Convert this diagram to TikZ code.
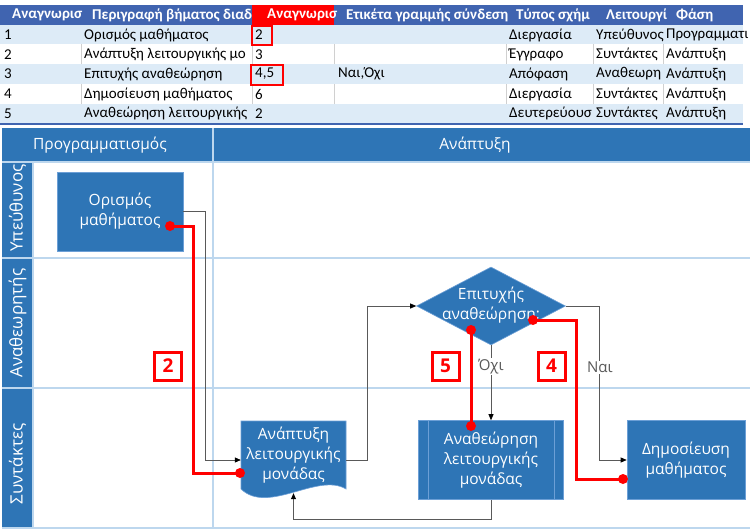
\documentclass[tikz,border=0pt]{standalone}
\usepackage{fontspec}
\setmainfont{Open Sans}
\newfontfamily\tablefont{Carlito}
\usetikzlibrary{arrows.meta,shapes.geometric}

\definecolor{hdrblue}{HTML}{4064B0}
\definecolor{laneblue}{HTML}{2E75B6}
\definecolor{rowblue}{HTML}{DDEBF7}
\definecolor{laneline}{HTML}{BDD7EE}
\definecolor{shapeline}{HTML}{6C9FD6}
\definecolor{conngray}{HTML}{595959}
\definecolor{gridgray}{HTML}{D0D0D0}

\tikzset{
        cell/.style={anchor=west, inner sep=0pt, font=\tablefont\fontsize{15}{16}\selectfont},
        hcell/.style={cell, text=white, font=\tablefont\bfseries\fontsize{15}{16}\selectfont},
        process/.style={rectangle, fill=laneblue, draw=shapeline, line width=0.6pt, text=white, align=center,
                font=\fontsize{15.5}{20}\selectfont, minimum width=126pt, minimum height=79pt, inner sep=0pt},
        decision/.style={diamond, fill=laneblue, draw=shapeline, line width=0.6pt, minimum width=149pt,
                minimum height=78pt, inner sep=0pt},
        shapetext/.style={text=white, align=center, font=\fontsize{15.5}{20}\selectfont, inner sep=0pt},
        lanelabel/.style={rotate=90, text=white, font=\fontsize{17}{18}\selectfont},
        phaselabel/.style={text=white, font=\fontsize{15.5}{16}\selectfont},
        conn/.style={draw=conngray, line width=0.7pt, -{Triangle[length=6pt,width=5pt,color=black]}},
        lbl/.style={fill=white, text=conngray, font=\fontsize{15}{16}\selectfont, inner sep=1pt},
        redline/.style={draw=red, line width=3pt},
        reddot/.style={circle, fill=red, minimum size=10pt, inner sep=0pt},
        redbox/.style={draw=red, line width=3pt, fill=white, text=red, font=\bfseries\fontsize{19}{20}\selectfont,
                minimum width=27pt, minimum height=28pt, inner sep=0pt}
}

\begin{document}
\begin{tikzpicture}[x=1pt, y=-1pt]
        \useasboundingbox[fill=white] (0,0) rectangle (750,531);

        \fill[hdrblue] (0,5) rectangle (743,25);
        \fill[red] (252,5) rectangle (334,25);
        \fill[rowblue] (0,25) rectangle (743,44);
        \fill[rowblue] (0,64) rectangle (743,84);
        \fill[rowblue] (0,104) rectangle (743,123);
        \fill[hdrblue] (0,123) rectangle (743,125);
        \draw[gridgray] (81,44)--(81,64) (252,44)--(252,64) (334,44)--(334,64) (506,44)--(506,64)
                (593,44)--(593,64) (663,44)--(663,64);
        \draw[gridgray] (81,84)--(81,104) (252,84)--(252,104) (334,84)--(334,104) (506,84)--(506,104)
                (593,84)--(593,104) (663,84)--(663,104);

        \node[hcell] (h1) at (12,15) {Αναγνωρισ};
        \node[hcell] (h2) at (92,15) {Περιγραφή βήματος διαδ};
        \node[hcell] (h3) at (267,15) {Αναγνωρισ};
        \node[hcell] (h4) at (346,15) {Ετικέτα γραμμής σύνδεση};
        \node[hcell] (h5) at (516,15) {Τύπος σχήμ};
        \node[hcell] (h6) at (606,15) {Λειτουργί};
        \node[hcell] (h7) at (676,15) {Φάση};

        \node[cell] (a1) at (4,35) {1};
        \node[cell] (b1) at (84,35) {Ορισμός μαθήματος};
        \node[cell] (c1) at (255,35) {2};
        \node[cell] (e1) at (509,35) {Διεργασία};
        \node[cell] (f1) at (596,35) {Υπεύθυνος};
        \node[cell] (g1) at (666,35) {Προγραμματι};

        \node[cell] (a2) at (4,54.5) {2};
        \node[cell] (b2) at (84,54.5) {Ανάπτυξη λειτουργικής μο};
        \node[cell] (c2) at (255,54.5) {3};
        \node[cell] (e2) at (509,54.5) {Έγγραφο};
        \node[cell] (f2) at (596,54.5) {Συντάκτες};
        \node[cell] (g2) at (666,54.5) {Ανάπτυξη};

        \node[cell] (a3) at (4,74) {3};
        \node[cell] (b3) at (84,74) {Επιτυχής αναθεώρηση};
        \node[cell] (c3) at (255,74) {4,5};
        \node[cell] (d3) at (338,74) {Ναι,Όχι};
        \node[cell] (e3) at (509,74) {Απόφαση};
        \node[cell] (f3) at (596,74) {Αναθεωρη};
        \node[cell] (g3) at (666,74) {Ανάπτυξη};

        \node[cell] (a4) at (4,94) {4};
        \node[cell] (b4) at (84,94) {Δημοσίευση μαθήματος};
        \node[cell] (c4) at (255,94) {6};
        \node[cell] (e4) at (509,94) {Διεργασία};
        \node[cell] (f4) at (596,94) {Συντάκτες};
        \node[cell] (g4) at (666,94) {Ανάπτυξη};

        \node[cell] (a5) at (4,113.5) {5};
        \node[cell] (b5) at (84,113.5) {Αναθεώρηση λειτουργικής};
        \node[cell] (c5) at (255,113.5) {2};
        \node[cell] (e5) at (509,113.5) {Δευτερεύουσ};
        \node[cell] (f5) at (596,113.5) {Συντάκτες};
        \node[cell] (g5) at (666,113.5) {Ανάπτυξη};

        \draw[red, line width=2.5pt] (252,26) rectangle (272,45);
        \draw[red, line width=2.5pt] (251,65) rectangle (283,85);

        \fill[laneblue] (2,128) rectangle (750,162);
        \fill[laneblue] (2,162) rectangle (33,528);
        \draw[laneline, line width=1.5pt] (2,162) -- (750,162);
        \draw[laneline, line width=1.5pt] (2,258) -- (750,258);
        \draw[laneline, line width=1.5pt] (2,388) -- (750,388);
        \draw[laneline, line width=1.5pt] (2,528) -- (750,528);
        \draw[laneline, line width=1.5pt] (33,162) -- (33,528);
        \draw[laneline, line width=1.5pt] (213,128) -- (213,528);

        \node[phaselabel] (planning) at (100,145) {Προγραμματισμός};
        \node[phaselabel] (development) at (475,145) {Ανάπτυξη};
        \node[lanelabel] (owner) at (17.5,208) {Υπεύθυνος};
        \node[lanelabel] (reviewer) at (17.5,323) {Αναθεωρητής};
        \node[lanelabel] (authors) at (17.5,464) {Συντάκτες};

        \node[process] (orismos) at (120,211.5) {Ορισμός\\μαθήματος};
        \filldraw[fill=laneblue, draw=shapeline, line width=0.6pt] (241,421) -- (346,421) -- (346,489)
                .. controls (318,472) and (268,515) .. (241,489) -- cycle;
        \node[shapetext, minimum width=105pt, minimum height=68pt] (anaptyxi) at (293.5,455) {Ανάπτυξη\\λειτουργικής\\μονάδας};
        \node[decision] (apofasi) at (491,306) {};
        \node[shapetext] (apofasitxt) at (491,305) {Επιτυχής\\αναθεώρηση;};
        \node[process, minimum width=145pt] (revision) at (491,460) {Αναθεώρηση\\λειτουργικής\\μονάδας};
        \draw[shapeline, line width=0.6pt] ([xshift=10pt]revision.north west) -- ([xshift=10pt]revision.south west);
        \draw[shapeline, line width=0.6pt] ([xshift=-10pt]revision.north east) -- ([xshift=-10pt]revision.south east);
        \node[process, minimum width=118pt] (dimosieusi) at (686,460) {Δημοσίευση\\μαθήματος};

        \draw[conn] (orismos.east) -- ++(22,0) |- ([yshift=-5pt]anaptyxi.west);
        \draw[conn] ([yshift=-5pt]anaptyxi.east) -- ++(21,0) |- (apofasi.west);
        \draw[conn] (apofasi.east) -- ++(34,0) |- node[lbl, pos=0.2] (yes) {Ναι} (dimosieusi.west);
        \draw[conn] (apofasi.south) -- node[lbl, pos=0.28] (no) {Όχι} (revision.north);
        \draw[conn] (revision.south) -- ++(0,20) -| ([yshift=-4pt]anaptyxi.south);

        \node[reddot] (r2a) at (170,226) {};
        \node[reddot] (r2b) at (240,473) {};
        \node[reddot] (r5a) at (471,330) {};
        \node[reddot] (r5b) at (471,426) {};
        \node[reddot] (r4a) at (533,320) {};
        \node[reddot] (r4b) at (623,479) {};
        \draw[redline] (r2a.center) -- ++(23,0) |- (r2b.center);
        \draw[redline] (r5a.center) -- (r5b.center);
        \draw[redline] (r4a.center) -- ++(43,0) |- (r4b.center);

        \node[redbox] (box2) at (168,366) {2};
        \node[redbox] (box5) at (445.5,366) {5};
        \node[redbox] (box4) at (551.5,366) {4};
\end{tikzpicture}
\end{document}
